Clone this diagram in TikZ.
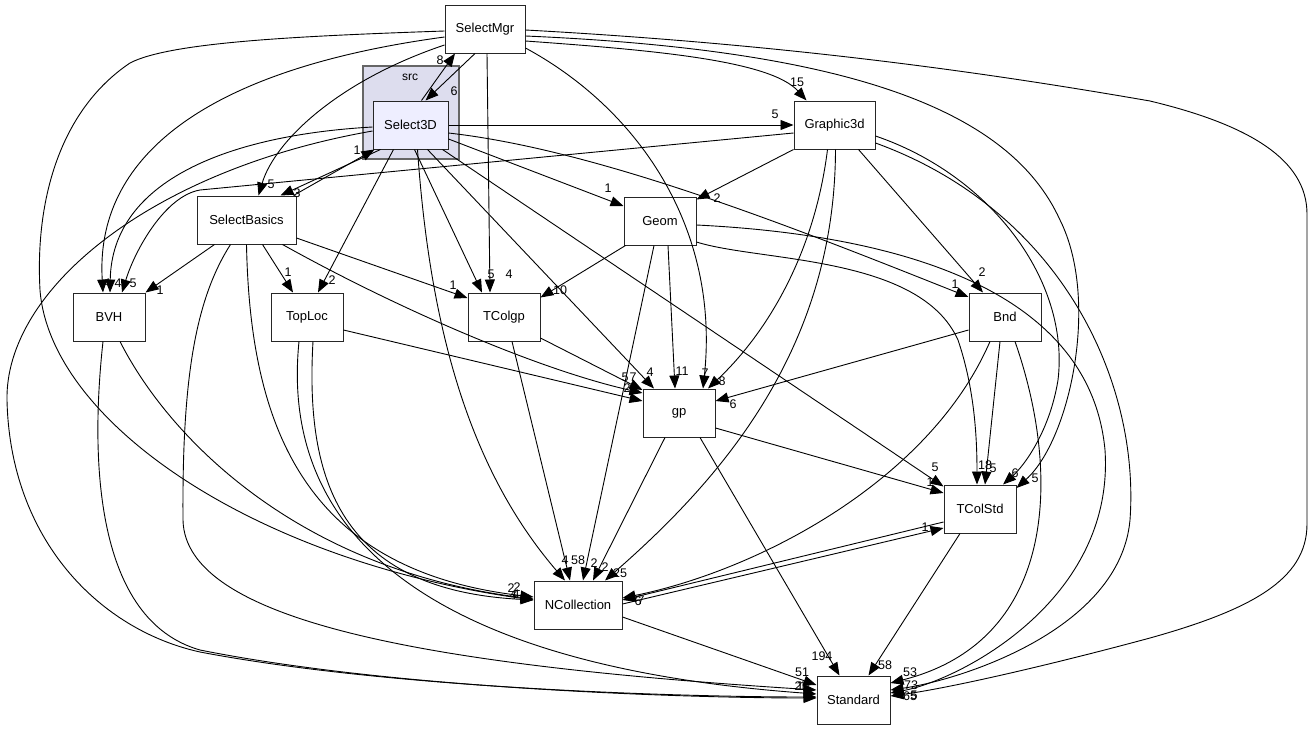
\documentclass[tikz,border=0pt]{standalone}
\usepackage{fontspec}
\setmainfont{Liberation Sans}
\usetikzlibrary{arrows.meta}

\begin{document}
\begin{tikzpicture}[x=1pt, y=-1pt,
  pkg/.style={rectangle, draw=black!85, line width=1pt, fill=white, minimum width=72pt,
              minimum height=48pt, inner sep=0pt, text centered,
              font=\fontsize{13}{15}\selectfont},
  dep/.style={-{Triangle[length=13pt,width=10pt]}, line width=0.9pt},
  lbl/.style={inner sep=0pt, font=\fontsize{12.5}{14}\selectfont}
]
\useasboundingbox (0,0) rectangle (1315,731);

% directory cluster
\draw[fill={rgb,255:red,221;green,221;blue,238}, draw=black!60, line width=1.8pt]
  (363,66) rectangle (459,159);
\node[lbl, font=\fontsize{12}{14}\selectfont] (srclbl) at (410,77) {src};

% packages
\node[pkg, minimum width=80pt] (SelectMgr) at (485,29) {SelectMgr};
\node[pkg, minimum width=75pt, fill={rgb,255:red,238;green,238;blue,255}] (Select3D) at (410.5,125) {Select3D};
\node[pkg, minimum width=81pt] (Graphic3d) at (834.5,125) {Graphic3d};
\node[pkg, minimum width=99pt] (SelectBasics) at (246.5,220) {SelectBasics};
\node[pkg] (Geom) at (660,221) {Geom};
\node[pkg] (BVH) at (109,317) {BVH};
\node[pkg] (TopLoc) at (307,317) {TopLoc};
\node[pkg] (TColgp) at (504,317) {TColgp};
\node[pkg] (Bnd) at (1005,317) {Bnd};
\node[pkg] (gp) at (679,413) {gp};
\node[pkg] (TColStd) at (980,509) {TColStd};
\node[pkg, minimum width=88pt] (NCollection) at (578,605) {NCollection};
\node[pkg, minimum width=73pt] (Standard) at (853.5,700) {Standard};

% SelectMgr
\draw[dep] ([xshift=-10pt]SelectMgr.south) -- ([xshift=15pt]Select3D.north) node[lbl] at (454,91) {6};
\draw[dep] ([yshift=-12pt]SelectMgr.east) .. controls (650,50) and (770,60) .. ([xshift=-28pt]Graphic3d.north) node[lbl] at (797,82) {15};
\draw[dep] ([yshift=-16pt]SelectMgr.west) .. controls (340,80) and (275,140) .. ([xshift=12pt]SelectBasics.north) node[lbl] at (271,184) {5};
\draw[dep] ([yshift=-8pt]SelectMgr.west) .. controls (200,70) and (95,160) .. ([xshift=-6pt]BVH.north) node[lbl] at (107,283) {4};
\draw[dep] ([yshift=-2pt]SelectMgr.west) .. controls (300,36) and (170,42) .. (130,63)
  .. controls (60,110) and (35,200) .. (40,290) .. controls (50,420) and (250,560) .. ([yshift=5pt]NCollection.west)
  node[lbl] at (511,588) {2};
\draw[dep] ([xshift=2pt]SelectMgr.south) -- ([xshift=-14pt]TColgp.north) node[lbl] at (509,274) {4};
\draw[dep] ([yshift=-19pt]SelectMgr.east) .. controls (640,110) and (720,230) .. ([xshift=24pt]gp.north) node[lbl] at (705,373) {7};
\draw[dep] ([yshift=-7pt]SelectMgr.east) .. controls (850,50) and (1010,110) .. (1060,220)
  .. controls (1100,300) and (1070,440) .. ([yshift=21pt]TColStd.east) node[lbl] at (1035,478) {5};
\draw[dep] ([yshift=-1pt]SelectMgr.east) .. controls (800,45) and (1000,75) .. (1150,101)
  .. controls (1250,125) and (1307,160) .. (1307,214) -- (1307,524)
  .. controls (1307,580) and (1250,610) .. (1150,638) .. controls (1050,665) and (950,688) .. ([yshift=4pt]Standard.east)
  node[lbl] at (914,695) {5};

% Select3D
\draw[dep] ([xshift=11pt]Select3D.north) -- ([xshift=-30pt]SelectMgr.south) node[lbl] at (440,60) {8};
\draw[dep] (Select3D.east) -- (Graphic3d.west) node[lbl] at (775,114) {5};
\draw[dep] ([xshift=-30pt]Select3D.south) -- ([xshift=34pt]SelectBasics.north) node[lbl] at (297,193) {3};
\draw[dep] ([xshift=-17pt]Select3D.south) -- ([xshift=11pt]TopLoc.north) node[lbl] at (332,280) {2};
\draw[dep] ([xshift=4pt]Select3D.south) -- ([xshift=-22pt]TColgp.north) node[lbl] at (491,274) {5};
\draw[dep] ([xshift=7pt]Select3D.south) .. controls (430,330) and (470,470) .. ([xshift=-13pt]NCollection.north) node[lbl] at (565,560) {4};
\draw[dep] ([xshift=17pt]Select3D.south) -- ([xshift=-25pt]gp.north) node[lbl] at (650,372) {4};
\draw[dep] ([xshift=32pt]Select3D.south) -- ([yshift=-2pt]TColStd.north west) node[lbl] at (935,467) {5};
\draw[dep] ([yshift=-14pt]Select3D.east) -- ([yshift=15pt]Geom.west) node[lbl] at (608,188) {1};
\draw[dep] ([yshift=-8pt]Select3D.east) .. controls (600,150) and (800,230) .. ([yshift=20pt]Bnd.west) node[lbl] at (955,284) {1};
\draw[dep] ([yshift=-2pt]Select3D.west) .. controls (230,135) and (112,180) .. ([xshift=1pt]BVH.north) node[lbl] at (118,283) {4};
\draw[dep] ([yshift=-6pt]Select3D.west) .. controls (150,170) and (5,290) .. (7,400)
  .. controls (10,540) and (100,630) .. (200,652) .. controls (400,690) and (700,697) .. ([yshift=3pt]Standard.west)
  node[lbl] at (803,686) {1};

% Graphic3d
\draw[dep] ([yshift=-8pt]Graphic3d.west) -- (200,190) .. controls (165,196) and (135,250) .. ([xshift=13pt]BVH.north) node[lbl] at (133,283) {5};
\draw[dep] (Graphic3d.south west) -- ([yshift=-3pt]Geom.north east) node[lbl] at (717,198) {2};
\draw[dep] ([xshift=-7pt]Graphic3d.south) .. controls (815,250) and (770,330) .. ([xshift=29pt]gp.north) node[lbl] at (722,381) {8};
\draw[dep] ([xshift=1pt]Graphic3d.south) .. controls (835,350) and (720,480) .. ([xshift=27pt]NCollection.north) node[lbl] at (620,573) {25};
\draw[dep] ([xshift=24pt]Graphic3d.south) -- ([xshift=-22pt]Bnd.north) node[lbl] at (982,272) {2};
\draw[dep] ([yshift=-11pt]Graphic3d.east) .. controls (990,175) and (1070,280) .. (1058,380)
  .. controls (1050,430) and (1025,465) .. ([xshift=23pt]TColStd.north) node[lbl] at (1015,473) {6};
\draw[dep] ([yshift=-18pt]Graphic3d.east) .. controls (1060,210) and (1140,380) .. (1130,520)
  .. controls (1120,630) and (960,680) .. ([yshift=10pt]Standard.east) node[lbl] at (911,685) {73};

% Geom
\draw[dep] ([yshift=-4pt]Geom.east) .. controls (900,235) and (1090,290) .. (1105,450)
  .. controls (1115,600) and (960,680) .. ([yshift=7pt]Standard.east) node[lbl] at (910,696) {65};
\draw[dep] ([yshift=-21pt]Geom.east) .. controls (760,262) and (920,255) .. (958,340)
  .. controls (975,390) and (977,440) .. ([xshift=-3pt]TColStd.north) node[lbl] at (985,465) {18};
\draw[dep] ([xshift=2pt]Geom.south west) -- ([yshift=-5pt]TColgp.north east) node[lbl] at (560,290) {10};
\draw[dep] ([xshift=8pt]Geom.south) -- ([xshift=-4pt]gp.north) node[lbl] at (682,371) {11};
\draw[dep] ([xshift=-6pt]Geom.south) -- ([xshift=5pt]NCollection.north) node[lbl] at (594,563) {2};

% SelectBasics
\draw[dep] ([xshift=47pt]SelectBasics.north) -- ([xshift=-36pt]Select3D.south) node[lbl] at (357,150) {1};
\draw[dep] ([xshift=-32pt]SelectBasics.south) -- (BVH.north east) node[lbl] at (160,290) {1};
\draw[dep] ([xshift=16pt]SelectBasics.south) -- ([xshift=-14pt]TopLoc.north) node[lbl] at (288,272) {1};
\draw[dep] ([yshift=-18pt]SelectBasics.east) -- ([yshift=19pt]TColgp.west) node[lbl] at (453,285) {1};
\draw[dep] ([xshift=36pt]SelectBasics.south) .. controls (400,310) and (540,370) .. ([yshift=20pt]gp.west) node[lbl] at (633,377) {7};
\draw[dep] (SelectBasics.south) .. controls (250,420) and (300,570) .. ([yshift=8pt]NCollection.west) node[lbl] at (517,587) {2};
\draw[dep] ([xshift=-16pt]SelectBasics.south) .. controls (195,300) and (182,380) .. (183,520)
  .. controls (185,620) and (420,665) .. ([yshift=10pt]Standard.west) node[lbl] at (806,688) {8};

% TopLoc, TColgp, BVH
\draw[dep] ([xshift=6pt]TopLoc.south) .. controls (305,480) and (340,590) .. ([yshift=5pt]NCollection.west) node[lbl] at (513,595) {4};
\draw[dep] ([xshift=-8pt]TopLoc.south) .. controls (285,480) and (350,660) .. ([yshift=6pt]Standard.west) node[lbl] at (800,686) {1};
\draw[dep] ([yshift=-13pt]TopLoc.east) -- ([yshift=12pt]gp.west) node[lbl] at (627,388) {2};
\draw[dep] ([yshift=-21pt]TColgp.east) -- ([yshift=23pt]gp.west) node[lbl] at (625,377) {5};
\draw[dep] ([xshift=8pt]TColgp.south) -- ([xshift=-8pt]NCollection.north) node[lbl] at (578,560) {58};
\draw[dep] ([xshift=11pt]BVH.south) .. controls (170,440) and (300,570) .. ([yshift=6pt]NCollection.west) node[lbl] at (516,594) {4};
\draw[dep] ([xshift=-6pt]BVH.south) .. controls (90,460) and (95,620) .. (200,650)
  .. controls (400,690) and (700,698) .. ([yshift=2pt]Standard.west) node[lbl] at (798,686) {2};

% gp, Bnd
\draw[dep] ([xshift=-14pt]gp.south) -- ([xshift=15pt]NCollection.north) node[lbl] at (605,567) {2};
\draw[dep] ([xshift=21pt]gp.south) -- ([xshift=-14pt]Standard.north) node[lbl] at (822,656) {194};
\draw[dep] ([yshift=-15pt]gp.east) -- ([yshift=16pt]TColStd.west) node[lbl] at (930,482) {1};
\draw[dep] ([yshift=-13pt]Bnd.west) -- ([yshift=12pt]gp.east) node[lbl] at (733,404) {6};
\draw[dep] ([xshift=-15pt]Bnd.south) .. controls (930,480) and (760,570) .. ([yshift=7pt]NCollection.east) node[lbl] at (638,601) {6};
\draw[dep] ([xshift=-5pt]Bnd.south) -- ([xshift=5pt]TColStd.north) node[lbl] at (993,468) {5};
\draw[dep] ([xshift=10pt]Bnd.south) .. controls (1060,470) and (1060,640) .. ([yshift=17pt]Standard.east) node[lbl] at (910,672) {53};

% TColStd, NCollection
\draw[dep] ([yshift=-13pt]TColStd.west) -- ([yshift=5pt]NCollection.east) node[lbl] at (641,600) {7};
\draw[dep] ([yshift=1pt]NCollection.east) -- ([yshift=-19pt]TColStd.west) node[lbl] at (925,527) {1};
\draw[dep] ([yshift=-12pt]NCollection.east) -- ([yshift=15pt]Standard.west) node[lbl] at (802,672) {51};
\draw[dep] ([xshift=-20pt]TColStd.south) -- ([xshift=15pt]Standard.north) node[lbl] at (885,665) {58};
\end{tikzpicture}
\end{document}
